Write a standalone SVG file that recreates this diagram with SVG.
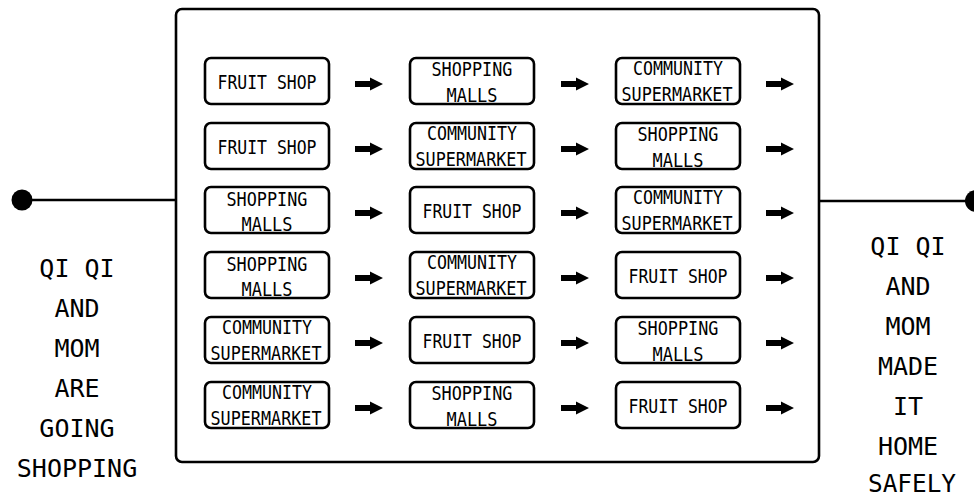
<svg xmlns="http://www.w3.org/2000/svg" xmlns:xlink="http://www.w3.org/1999/xlink" width="974" height="498" viewBox="0 0 974 498">
<style>
.frame{fill:#fff;stroke:#000;stroke-width:2.6}
.box{fill:#fff;stroke:#000;stroke-width:2.6}
.line{stroke:#000;stroke-width:2.6;fill:none}
.dot{fill:#000}
.t{font-family:"DejaVu Sans Mono","Liberation Mono",monospace;font-size:19px;fill:#000;text-anchor:middle}
.s{font-family:"DejaVu Sans Mono","Liberation Mono",monospace;font-size:25px;fill:#000;text-anchor:middle}
</style>
<defs>
<path id="arr" d="M0,-3 H15 V-6.5 L28,0 L15,6.5 V3 H0 Z" fill="#000"/>
</defs>
<rect width="974" height="498" fill="#fff"/>
<g id="frame"><rect class="frame" x="176" y="9" width="643" height="453" rx="6"/></g>
<g id="connectors">
<line class="line" x1="22" y1="200" x2="176" y2="200"/>
<circle class="dot" cx="22" cy="200" r="10.5"/>
<line class="line" x1="819" y1="201" x2="976" y2="201"/>
<circle class="dot" cx="976" cy="201" r="11"/>
<use xlink:href="#arr" x="355" y="84"/><use xlink:href="#arr" x="561" y="84"/><use xlink:href="#arr" x="766" y="84"/>
<use xlink:href="#arr" x="355" y="149"/><use xlink:href="#arr" x="561" y="149"/><use xlink:href="#arr" x="766" y="149"/>
<use xlink:href="#arr" x="355" y="213"/><use xlink:href="#arr" x="561" y="213"/><use xlink:href="#arr" x="766" y="213"/>
<use xlink:href="#arr" x="355" y="278"/><use xlink:href="#arr" x="561" y="278"/><use xlink:href="#arr" x="766" y="278"/>
<use xlink:href="#arr" x="355" y="343"/><use xlink:href="#arr" x="561" y="343"/><use xlink:href="#arr" x="766" y="343"/>
<use xlink:href="#arr" x="355" y="408"/><use xlink:href="#arr" x="561" y="408"/><use xlink:href="#arr" x="766" y="408"/>
</g>
<g id="start">
<text class="s" x="77" y="277">QI QI</text>
<text class="s" x="77" y="317">AND</text>
<text class="s" x="77" y="357">MOM</text>
<text class="s" x="77" y="397">ARE</text>
<text class="s" x="77" y="437">GOING</text>
<text class="s" x="77" y="477">SHOPPING</text>
</g>
<g id="end">
<text class="s" x="908" y="255">QI QI</text>
<text class="s" x="908" y="295">AND</text>
<text class="s" x="908" y="335">MOM</text>
<text class="s" x="908" y="375">MADE</text>
<text class="s" x="908" y="415">IT</text>
<text class="s" x="908" y="455">HOME</text>
<text class="s" x="912" y="492" textLength="88" lengthAdjust="spacingAndGlyphs">SAFELY</text>
</g>
<!-- row 1 -->
<g id="r1c1"><rect class="box" x="205" y="58" width="124" height="46" rx="6"/><text class="t" x="267" y="89" textLength="99" lengthAdjust="spacingAndGlyphs">FRUIT SHOP</text></g>
<g id="r1c2"><rect class="box" x="410" y="58" width="124" height="46" rx="6"/><text class="t" x="472" y="76" textLength="81" lengthAdjust="spacingAndGlyphs">SHOPPING</text><text class="t" x="472" y="102" textLength="51" lengthAdjust="spacingAndGlyphs">MALLS</text></g>
<g id="r1c3"><rect class="box" x="616" y="58" width="124" height="46" rx="6"/><text class="t" x="678" y="75" textLength="90" lengthAdjust="spacingAndGlyphs">COMMUNITY</text><text class="t" x="677" y="101" textLength="111" lengthAdjust="spacingAndGlyphs">SUPERMARKET</text></g>
<!-- row 2 -->
<g id="r2c1"><rect class="box" x="205" y="123" width="124" height="46" rx="6"/><text class="t" x="267" y="154" textLength="99" lengthAdjust="spacingAndGlyphs">FRUIT SHOP</text></g>
<g id="r2c2"><rect class="box" x="410" y="123" width="124" height="46" rx="6"/><text class="t" x="472" y="140" textLength="90" lengthAdjust="spacingAndGlyphs">COMMUNITY</text><text class="t" x="471" y="166" textLength="111" lengthAdjust="spacingAndGlyphs">SUPERMARKET</text></g>
<g id="r2c3"><rect class="box" x="616" y="123" width="124" height="46" rx="6"/><text class="t" x="678" y="141" textLength="81" lengthAdjust="spacingAndGlyphs">SHOPPING</text><text class="t" x="678" y="167" textLength="51" lengthAdjust="spacingAndGlyphs">MALLS</text></g>
<!-- row 3 -->
<g id="r3c1"><rect class="box" x="205" y="187" width="124" height="46" rx="6"/><text class="t" x="267" y="206" textLength="81" lengthAdjust="spacingAndGlyphs">SHOPPING</text><text class="t" x="267" y="231" textLength="51" lengthAdjust="spacingAndGlyphs">MALLS</text></g>
<g id="r3c2"><rect class="box" x="410" y="187" width="124" height="46" rx="6"/><text class="t" x="472" y="218" textLength="99" lengthAdjust="spacingAndGlyphs">FRUIT SHOP</text></g>
<g id="r3c3"><rect class="box" x="616" y="187" width="124" height="46" rx="6"/><text class="t" x="678" y="204" textLength="90" lengthAdjust="spacingAndGlyphs">COMMUNITY</text><text class="t" x="677" y="230" textLength="111" lengthAdjust="spacingAndGlyphs">SUPERMARKET</text></g>
<!-- row 4 -->
<g id="r4c1"><rect class="box" x="205" y="252" width="124" height="46" rx="6"/><text class="t" x="267" y="271" textLength="81" lengthAdjust="spacingAndGlyphs">SHOPPING</text><text class="t" x="267" y="296" textLength="51" lengthAdjust="spacingAndGlyphs">MALLS</text></g>
<g id="r4c2"><rect class="box" x="410" y="252" width="124" height="46" rx="6"/><text class="t" x="472" y="269" textLength="90" lengthAdjust="spacingAndGlyphs">COMMUNITY</text><text class="t" x="471" y="295" textLength="111" lengthAdjust="spacingAndGlyphs">SUPERMARKET</text></g>
<g id="r4c3"><rect class="box" x="616" y="252" width="124" height="46" rx="6"/><text class="t" x="678" y="283" textLength="99" lengthAdjust="spacingAndGlyphs">FRUIT SHOP</text></g>
<!-- row 5 -->
<g id="r5c1"><rect class="box" x="205" y="317" width="124" height="46" rx="6"/><text class="t" x="267" y="334" textLength="90" lengthAdjust="spacingAndGlyphs">COMMUNITY</text><text class="t" x="266" y="360" textLength="111" lengthAdjust="spacingAndGlyphs">SUPERMARKET</text></g>
<g id="r5c2"><rect class="box" x="410" y="317" width="124" height="46" rx="6"/><text class="t" x="472" y="348" textLength="99" lengthAdjust="spacingAndGlyphs">FRUIT SHOP</text></g>
<g id="r5c3"><rect class="box" x="616" y="317" width="124" height="46" rx="6"/><text class="t" x="678" y="335" textLength="81" lengthAdjust="spacingAndGlyphs">SHOPPING</text><text class="t" x="678" y="361" textLength="51" lengthAdjust="spacingAndGlyphs">MALLS</text></g>
<!-- row 6 -->
<g id="r6c1"><rect class="box" x="205" y="382" width="124" height="46" rx="6"/><text class="t" x="267" y="399" textLength="90" lengthAdjust="spacingAndGlyphs">COMMUNITY</text><text class="t" x="266" y="425" textLength="111" lengthAdjust="spacingAndGlyphs">SUPERMARKET</text></g>
<g id="r6c2"><rect class="box" x="410" y="382" width="124" height="46" rx="6"/><text class="t" x="472" y="400" textLength="81" lengthAdjust="spacingAndGlyphs">SHOPPING</text><text class="t" x="472" y="426" textLength="51" lengthAdjust="spacingAndGlyphs">MALLS</text></g>
<g id="r6c3"><rect class="box" x="616" y="382" width="124" height="46" rx="6"/><text class="t" x="678" y="413" textLength="99" lengthAdjust="spacingAndGlyphs">FRUIT SHOP</text></g>
</svg>
